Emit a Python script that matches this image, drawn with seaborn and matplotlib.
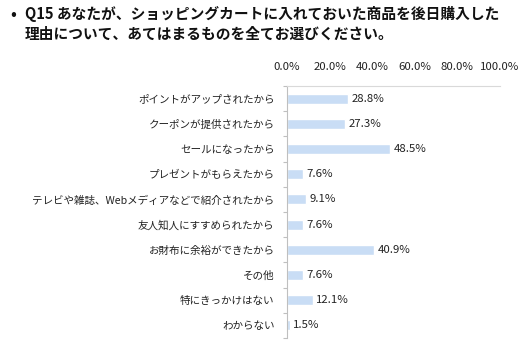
import matplotlib
matplotlib.use("Agg")
import matplotlib.pyplot as plt
import seaborn as sns
import pandas as pd
import numpy as np
from matplotlib.ticker import FixedLocator

sns.set_theme(style="white")
plt.rcParams['font.family'] = ['Noto Sans CJK JP', 'DejaVu Sans']

categories = ["ポイントがアップされたから", "クーポンが提供されたから", "セールになったから",
              "プレゼントがもらえたから", "テレビや雑誌、Webメディアなどで紹介されたから",
              "友人知人にすすめられたから", "お財布に余裕ができたから", "その他",
              "特にきっかけはない", "わからない"]
values = [28.8, 27.3, 48.5, 7.6, 9.1, 7.6, 40.9, 7.6, 12.1, 1.5]
xticks = [0, 20, 40, 60, 80, 100]
xtick_labels = ["0.0%", "20.0%", "40.0%", "60.0%", "80.0%", "100.0%"]
title_lines = ["Q15 あなたが、ショッピングカートに入れておいた商品を後日購入した",
               "理由について、あてはまるものを全てお選びください。"]

df = pd.DataFrame({"cat": categories, "val": values})

fig = plt.figure(figsize=(5.29, 3.47), dpi=100)
ax = fig.add_axes([287/529, 1-338/347, 213/529, 252/347])

sns.barplot(data=df, x="val", y="cat", color="#C9DDF5", width=0.4, ax=ax, saturation=1)

ax.set_xlim(0, 100)
ax.set_xticks(xticks)
ax.set_xticklabels(xtick_labels, fontsize=8.2, color="#222222")
ax.xaxis.tick_top()
ax.tick_params(axis="x", length=0, pad=10)
ax.set_xlabel("")
ax.set_ylabel("")
ax.set_yticks(range(len(categories)))
ax.set_yticklabels(categories, fontsize=7.6, color="#222222")
ax.tick_params(axis="y", length=0, pad=9)
ax.yaxis.set_minor_locator(FixedLocator(np.arange(-0.5, len(categories), 1)))
ax.tick_params(axis="y", which="minor", length=3, color="#BFBFBF", width=0.8, left=True)
ax.set_ylim(len(categories) - 0.5, -0.5)

for s in ["right", "bottom"]:
    ax.spines[s].set_visible(False)
ax.spines["left"].set_color("#BFBFBF")
ax.spines["top"].set_color("#D9D9D9")
ax.spines["left"].set_linewidth(0.8)
ax.spines["top"].set_linewidth(0.8)

for i, v in enumerate(values):
    ax.text(v + 1.5, i, f"{v:.1f}%", va="center", ha="left", fontsize=8.2, color="#222222")

fig.text(10/529, 1-14/347, "•", fontsize=11, fontweight="bold", va="center", ha="left", color="#111111")
fig.text(25/529, 1-14/347, title_lines[0], fontsize=10.6, fontweight="bold", va="center", ha="left", color="#111111")
fig.text(25/529, 1-34/347, title_lines[1], fontsize=10.6, fontweight="bold", va="center", ha="left", color="#111111")

fig.savefig("out.png", dpi=100)
